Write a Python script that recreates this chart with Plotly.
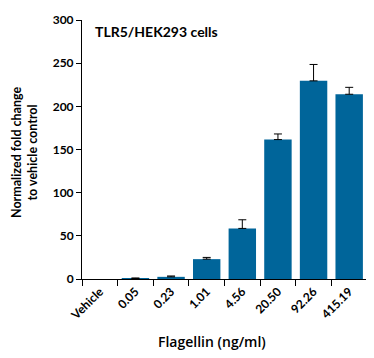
import plotly.graph_objects as go

categories = ["Vehicle", "0.05", "0.23", "1.01", "4.56", "20.50", "92.26", "415.19"]
values = [None, 0.6, 2.5, 23, 58.6, 161.5, 229.5, 214]  # vehicle: ~0, nothing visible
errors = [None, 0.6, 1.0, 2.0, 10, 6.5, 19, 8]
y_ticks = [0, 50, 100, 150, 200, 250, 300]

OFF = 8  # page body margin
W, H = 374 - OFF, 358 - OFF
L, R, T, B = 82 - OFF, 7, 20 - OFF, 87 - OFF
FONT = "Lato"

fig = go.Figure()
fig.add_trace(go.Bar(
    x=categories, y=values,
    marker=dict(color="#00659A", line=dict(width=0)),
    width=0.77,
    error_y=dict(type="data", array=errors, arrayminus=[None if e is None else 0 for e in errors],
                 symmetric=False, color="black", thickness=1, width=4),
))

fig.update_layout(
    width=W, height=H,
    margin=dict(l=L, r=R, t=T, b=B),
    paper_bgcolor="white", plot_bgcolor="white",
    showlegend=False,
    font=dict(family=FONT, color="black"),
    xaxis=dict(
        categoryorder="array", categoryarray=categories,
        showline=True, linecolor="black", linewidth=1,
        ticks="outside", ticklen=6, tickcolor="black", tickson="boundaries",
        tickangle=-45, tickfont=dict(size=12, family=FONT, weight="bold"),
        showgrid=False, zeroline=False, automargin=False,
    ),
    yaxis=dict(
        range=[0, 300], tickvals=y_ticks,
        showline=True, linecolor="black", linewidth=1,
        ticks="outside", ticklen=5, tickcolor="black",
        tickfont=dict(size=12, family=FONT, weight="bold"),
        showgrid=False, zeroline=False, automargin=False,
    ),
)

pw = W - L - R
ph = H - T - B

def px(xp):
    return (xp - OFF - L) / pw

def py(yp):
    return (T + ph - (yp - OFF)) / ph

fig.add_annotation(
    text="<b>TLR5/HEK293 cells</b>", xref="paper", yref="paper",
    x=px(93), y=py(31), xanchor="left", yanchor="middle",
    showarrow=False, font=dict(size=14, family=FONT),
)
fig.add_annotation(
    text="<b>Normalized fold change<br>to vehicle control</b>", xref="paper", yref="paper",
    x=px(24), y=py(153), xanchor="center", yanchor="middle",
    textangle=-90, showarrow=False, font=dict(size=12.5, family=FONT),
)
fig.add_annotation(
    text="Flagellin (ng/ml)", xref="paper", yref="paper",
    x=px(212), y=py(341), xanchor="center", yanchor="middle",
    showarrow=False, font=dict(size=14, family="Open Sans", weight=600),
)

fig.write_html("out.html")
